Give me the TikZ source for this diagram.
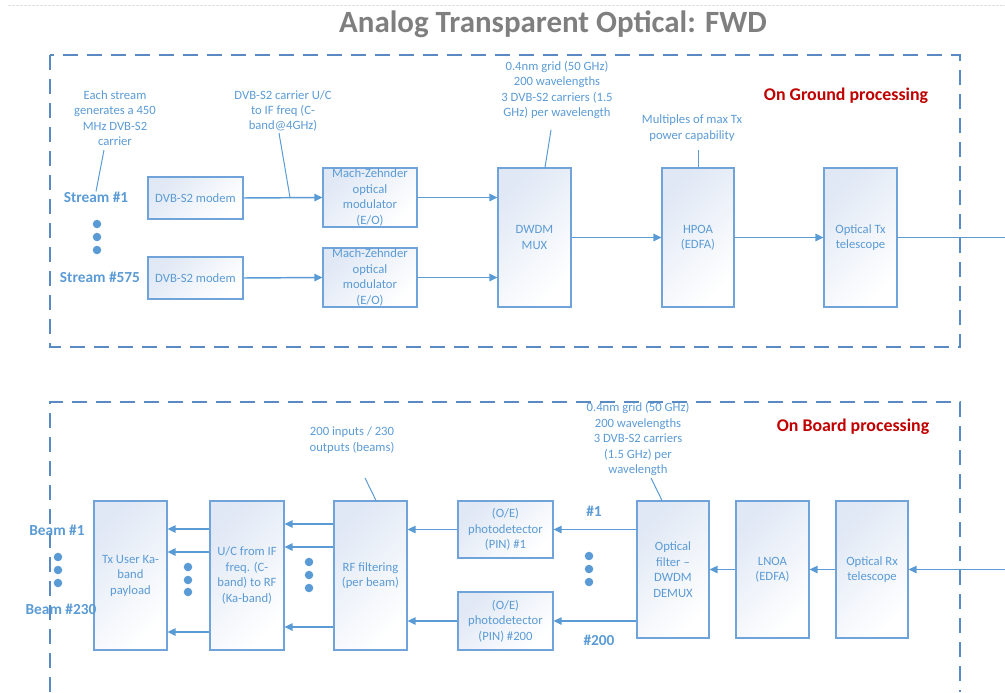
\documentclass[tikz,border=0pt]{standalone}
\usepackage{fontspec}
\setmainfont{Carlito}
\usetikzlibrary{arrows.meta,calc}
\definecolor{ink}{HTML}{5B9BD5}
\definecolor{frame}{HTML}{5A8AC4}
\definecolor{boxline}{HTML}{6FA3DA}
\definecolor{boxtop}{HTML}{E0E8F5}
\definecolor{titlegray}{HTML}{7F7F7F}
\definecolor{redlabel}{HTML}{C00000}
\newcommand{\notefont}{\fontsize{9.5}{11.6}\selectfont}
\newcommand{\tagfont}{\fontsize{11.5}{13}\selectfont\bfseries}
\begin{document}
\begin{tikzpicture}[x=0.75pt,y=-0.75pt,
  box/.style={draw=boxline, line width=0.8pt, top color=boxtop, middle color=white, bottom color=white,
    shading angle=45, inner sep=0pt, align=center, text=ink, font=\notefont},
  sz/.style 2 args={minimum width=#1*0.75pt, minimum height=#2*0.75pt},
  note/.style={text=ink, font=\notefont, align=center, inner sep=0pt},
  tag/.style={text=ink, font=\tagfont, inner sep=0pt},
  region/.style={text=redlabel, font=\fontsize{13.4}{16}\selectfont\bfseries, inner sep=0pt},
  arr/.style={draw=ink, line width=1.1pt, -{Triangle[length=6pt,width=5.5pt]}},
  wire/.style={draw=ink, line width=1.1pt},
  lead/.style={draw=ink, line width=0.75pt},
  frameline/.style={draw=frame, line width=1.5pt, dash pattern=on 11.5pt off 6.5pt},
  dot/.style={fill=ink}
]
\useasboundingbox (0,0) rectangle (1005,692);

% faint rule along the top of the page
\draw[black!12, line width=0.6pt, dash pattern=on 2pt off 1pt] (8,5) -- (1005,5);

% title
\node[text=titlegray, font=\fontsize{23.2}{27}\selectfont\bfseries, inner sep=0pt] (title) at (553,24) {Analog Transparent Optical: FWD};

% ---------------- ground segment ----------------
\draw[frameline] (50,55) rectangle (960,347);
\node[region] (ground) at (846,96) {On Ground processing};

\node[note] (nstream) at (115,118) {Each stream\\generates a 450\\MHz DVB-S2\\carrier};
\node[note] (nuc) at (283,111) {DVB-S2 carrier U/C\\to IF freq (C-\\band@4GHz)};
\node[note] (ngrid) at (557,90) {0.4nm grid (50 GHz)\\200 wavelengths\\3 DVB-S2 carriers (1.5\\GHz) per wavelength};
\node[note] (npow) at (692,128) {Multiples of max Tx\\power capability};

\node[tag] (s1) at (96,197) {Stream \#1};
\node[tag] (s575) at (100,277) {Stream \#575};

\node[box, sz={95}{42}] (mod1) at (195.5,198) {DVB-S2 modem};
\node[box, sz={95}{42}] (mod2) at (195.5,278) {DVB-S2 modem};
\node[box, sz={94}{59}] (mz1) at (370,197.5) {Mach-Zehnder\\optical\\modulator\\(E/O)};
\node[box, sz={94}{59}] (mz2) at (370,277.5) {Mach-Zehnder\\optical\\modulator\\(E/O)};
\node[box, sz={73}{139}] (mux) at (534.5,237.5) {DWDM\\MUX};
\node[box, sz={72}{139}] (hpoa) at (698,237.5) {HPOA\\(EDFA)};
\node[box, sz={73}{139}] (txtel) at (860.5,237.5) {Optical Tx\\telescope};

\coordinate (tap) at (290,197.5);
\coordinate (outR) at (1005,237.5);

\draw[arr] (mod1.east) -- (mz1.west);
\draw[arr] (mod2.east) -- (mz2.west);
\draw[arr] (mz1.east) -- (mux.west |- mz1.east);
\draw[arr] (mz2.east) -- (mux.west |- mz2.east);
\draw[arr] (mux.east) -- (hpoa.west);
\draw[arr] (hpoa.east) -- (txtel.west);
\draw[wire] (txtel.east) -- (outR);

\draw[lead] (104,150) -- (s1.north);
\draw[lead] (279,133) -- (tap);
\draw[lead] (551,130) -- (mux.north -| 545,0);
\draw[lead] (698,150) -- (hpoa.north);

\foreach \y in {224,237,250} \fill[dot] (97,\y) circle[radius=3.2pt];

% ---------------- on-board segment ----------------
\draw[frameline] (50,692) -- (50,402) -- (960,402) -- (960,692);
\node[region] (board) at (853,427) {On Board processing};

\node[note] (ngrid2) at (638,439) {0.4nm grid (50 GHz)\\200 wavelengths\\3 DVB-S2 carriers\\(1.5 GHz) per\\wavelength};
\node[note] (nbeams) at (352,440) {200 inputs / 230\\outputs (beams)};

\node[box, sz={72}{137}] (demux) at (673,569.5) {Optical\\filter --\\DWDM\\DEMUX};
\node[box, sz={73}{137}] (lnoa) at (772.5,569.5) {LNOA\\(EDFA)};
\node[box, sz={72}{137}] (rxtel) at (872,569.5) {Optical Rx\\telescope};
\node[box, sz={95}{57}] (pd1) at (505.5,529.5) {(O/E)\\photodetector\\(PIN) \#1};
\node[box, sz={95}{58}] (pd200) at (505.5,621) {(O/E)\\photodetector\\(PIN) \#200};
\node[box, sz={73}{149}] (rf) at (370.5,575.5) {RF filtering\\(per beam)};
\node[box, sz={74}{149}] (uc) at (247,575.5) {U/C from IF\\freq. (C-\\band) to RF\\(Ka-band)};
\node[box, sz={73}{149}] (txpl) at (130.5,575.5) {Tx User Ka-\\band\\payload};

\node[tag] (ch1) at (594,511) {\#1};
\node[tag] (ch200) at (599,640) {\#200};
\node[tag] (b1) at (57,530) {Beam \#1};
\node[tag] (b230) at (61,609) {Beam \#230};

\coordinate (inR) at (1005,569.5);

\draw[arr] (inR) -- (rxtel.east);
\draw[arr] (rxtel.west) -- (lnoa.east);
\draw[arr] (lnoa.west) -- (demux.east);
\draw[arr] (demux.west |- pd1.east) -- (pd1.east);
\draw[arr] (demux.west |- pd200.east) -- (pd200.east);
\draw[arr] (pd1.west) -- (rf.east |- pd1.west);
\draw[arr] (pd200.west) -- (rf.east |- pd200.west);
\foreach \y in {524,547,627} \draw[arr] (rf.west |- 0,\y) -- (uc.east |- 0,\y);
\foreach \y in {529,552,632} \draw[arr] (uc.west |- 0,\y) -- (txpl.east |- 0,\y);

\draw[lead] (651,478) -- (demux.north -| 662,0);
\draw[lead] (365,478) -- (rf.north -| 376,0);

\foreach \x/\y in {589/556,589/569,589/582, 309/562,309/575,309/588,
                   188/567,188/580,188/592, 58/557,58/570,58/583}
  \fill[dot] (\x,\y) circle[radius=3.2pt];
\end{tikzpicture}
\end{document}
